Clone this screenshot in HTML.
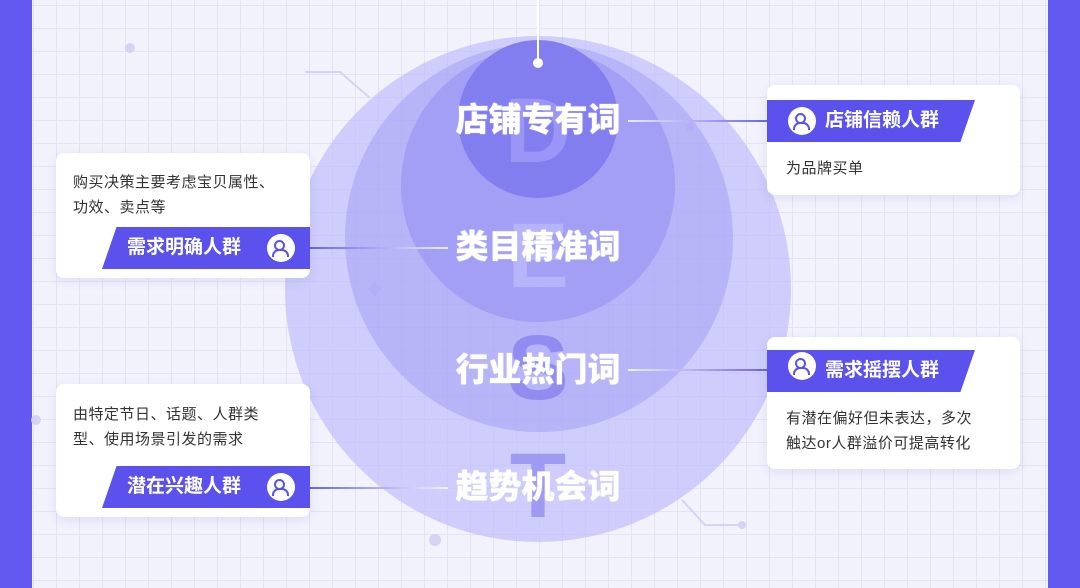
<!DOCTYPE html>
<html><head><meta charset="utf-8"><style>
*{margin:0;padding:0;box-sizing:border-box}
body{width:1080px;height:588px;overflow:hidden;position:relative;font-family:"Liberation Sans","Noto Sans CJK SC",sans-serif;
background-color:#f1f2fc;
background-image:linear-gradient(#e2e4f4 1px,transparent 1px),linear-gradient(90deg,#e2e4f4 1px,transparent 1px);
background-size:23px 23px;background-position:10px 5px}
.bar{position:absolute;top:0;width:32px;height:588px;background:#6358f0}
.c{position:absolute;border-radius:50%}
.lbl{position:absolute;left:388px;width:300px;text-align:center;color:#fff;font-size:33px;font-weight:900;letter-spacing:0px;line-height:36px;text-shadow:0 0 1px #fff}
.big{position:absolute;width:80px;text-align:center;left:498px;font-size:92px;font-weight:900;line-height:92px}
.card{position:absolute;background:#fff;border-radius:8px;box-shadow:0 3px 10px rgba(90,80,200,.12)}
.txt{position:absolute;font-size:15px;color:#333;line-height:25px;letter-spacing:.5px}
.tag{position:absolute;height:42px;background:#5b52ee;color:#fff;font-size:19px;font-weight:bold;line-height:42px}
.ic{position:absolute;top:7px;width:28px;height:28px;border-radius:50%;background:#fff}
.ln{position:absolute;height:2px}
.ic::before{content:"";position:absolute;left:7px;top:6px;width:7px;height:7px;border:2px solid #5b52ee;border-radius:50%}
.ic::after{content:"";position:absolute;left:5px;top:15px;width:13px;height:6px;border:2px solid #5b52ee;border-bottom:none;border-radius:7px 7px 0 0}
</style></head><body>
<div class="bar" style="left:0"></div>
<div class="bar" style="left:1048px"></div>

<svg style="position:absolute;left:0;top:0" width="1080" height="588">
<g stroke="#d4d3f3" stroke-width="2" fill="none">
<polyline points="305,72 340,72 370,98"/>
<polyline points="682,500 705,525 740,525"/>
</g>
<g fill="#d4d3f3"><circle cx="130" cy="48" r="5"/><circle cx="435" cy="540" r="6"/><circle cx="690" cy="127" r="4"/><circle cx="742" cy="525" r="4"/><circle cx="36" cy="420" r="5"/><rect x="370" y="284" width="10" height="10" transform="rotate(45 375 289)"/></g>
</svg>

<div class="c" style="left:285px;top:36px;width:506px;height:506px;background:rgba(188,185,250,.65)"></div>
<div class="c" style="left:345px;top:44px;width:388px;height:388px;background:rgba(160,155,244,.5)"></div>
<div class="c" style="left:401px;top:48px;width:274px;height:274px;background:rgba(140,134,240,.45)"></div>
<div class="c" style="left:458px;top:40px;width:160px;height:158px;background:#837ef0"></div>

<div class="big" style="top:85px;color:rgba(170,165,250,.6)">D</div>
<div class="big" style="top:210px;color:rgba(200,198,255,.55)">E</div>
<div class="big" style="top:322px;color:rgba(120,114,236,.6)">S</div>
<div class="big" style="top:440px;color:rgba(120,114,236,.55)">T</div>

<div style="position:absolute;left:537px;top:0;width:2px;height:63px;background:#fff"></div>
<div class="c" style="left:533px;top:58px;width:10px;height:10px;background:#fff"></div>

<div class="lbl" style="top:102px">店铺专有词</div>
<div class="lbl" style="top:229px">类目精准词</div>
<div class="lbl" style="top:352px">行业热门词</div>
<div class="lbl" style="top:469px">趋势机会词</div>

<div class="ln" style="left:628px;top:120px;width:140px;background:linear-gradient(90deg,rgba(255,255,255,.8),#6a60ee)"></div>
<div class="ln" style="left:628px;top:369px;width:140px;background:linear-gradient(90deg,rgba(255,255,255,.8),#6a60ee)"></div>
<div class="ln" style="left:310px;top:247px;width:138px;background:linear-gradient(90deg,#6a60ee,rgba(255,255,255,.8))"></div>
<div class="ln" style="left:310px;top:487px;width:138px;background:linear-gradient(90deg,#6a60ee,rgba(255,255,255,.8))"></div>

<div class="card" style="left:767px;top:85px;width:253px;height:110px"></div>
<div class="tag" style="left:767px;top:100px;width:208px;clip-path:polygon(0 0,100% 0,93% 100%,0 100%)"><div class="ic" style="left:21px"></div><span style="position:absolute;left:58px">店铺信赖人群</span></div>
<div class="txt" style="left:786px;top:156px">为品牌买单</div>

<div class="card" style="left:767px;top:337px;width:253px;height:132px"></div>
<div class="tag" style="left:767px;top:350px;width:208px;clip-path:polygon(0 0,100% 0,93% 100%,0 100%)"><div class="ic" style="left:21px;top:2px"></div><span style="position:absolute;left:58px">需求摇摆人群</span></div>
<div class="txt" style="left:786px;top:406px">有潜在偏好但未表达，多次<br>触达or人群溢价可提高转化</div>

<div class="card" style="left:56px;top:153px;width:254px;height:125px"></div>
<div class="txt" style="left:73px;top:170px">购买决策主要考虑宝贝属性、<br>功效、卖点等</div>
<div class="tag" style="left:102px;top:227px;width:208px;clip-path:polygon(7% 0,100% 0,100% 100%,0 100%)"><span style="position:absolute;left:25px">需求明确人群</span><div class="ic" style="left:165px"></div></div>

<div class="card" style="left:56px;top:384px;width:254px;height:133px"></div>
<div class="txt" style="left:73px;top:402px">由特定节日、话题、人群类<br>型、使用场景引发的需求</div>
<div class="tag" style="left:102px;top:466px;width:208px;clip-path:polygon(7% 0,100% 0,100% 100%,0 100%)"><span style="position:absolute;left:25px">潜在兴趣人群</span><div class="ic" style="left:165px"></div></div>
</body></html>
